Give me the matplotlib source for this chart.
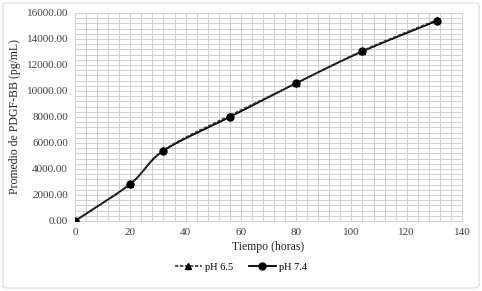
import numpy as np
import matplotlib
matplotlib.use("Agg")
import matplotlib.pyplot as plt
from matplotlib.ticker import MultipleLocator, FormatStrFormatter
from matplotlib.patches import FancyBboxPatch
from matplotlib.lines import Line2D

hours = [0, 20, 32, 56, 80, 104, 131]
ph65 = [0, 2850, 5450, 8100, 10600, 13100, 15480]
ph74 = [0, 2850, 5400, 8000, 10600, 13050, 15400]
series_names = ["pH 6.5", "pH 7.4"]

plt.rcParams['font.family'] = ['Liberation Serif', 'DejaVu Serif']


def smooth(x, y, n=30):
    x = np.asarray(x, float)
    y = np.asarray(y, float)
    px = np.concatenate([[2 * x[0] - x[1]], x, [2 * x[-1] - x[-2]]])
    py = np.concatenate([[2 * y[0] - y[1]], y, [2 * y[-1] - y[-2]]])
    xs, ys = [], []
    t = np.linspace(0, 1, n)
    for i in range(1, len(px) - 2):
        p0, p1, p2, p3 = [np.array([px[j], py[j]]) for j in range(i - 1, i + 3)]
        c1 = p1 + (p2 - p0) / 6
        c2 = p2 - (p3 - p1) / 6
        b = ((1 - t) ** 3)[:, None] * p1 + (3 * (1 - t) ** 2 * t)[:, None] * c1 \
            + (3 * (1 - t) * t ** 2)[:, None] * c2 + (t ** 3)[:, None] * p2
        xs.extend(b[:, 0])
        ys.extend(b[:, 1])
    return np.array(xs), np.array(ys)


fig = plt.figure(figsize=(4.82, 2.91), dpi=100)
fig.patches.append(FancyBboxPatch((0.006, 0.01), 0.988, 0.98, boxstyle="round,pad=0,rounding_size=0.01",
                                  transform=fig.transFigure, fill=False, edgecolor="#d9d9d9", lw=0.8))
ax = fig.add_axes([75 / 482, 1 - 221 / 291, (462 - 75) / 482, (221 - 13) / 291])

sx, sy = smooth(hours, ph74)
ax.plot(sx, sy, color='black', lw=1.3, ls='-', zorder=3)
ax.plot(hours, ph74, ls='none', marker='o', ms=5, color='black', zorder=4)
sx, sy = smooth(hours, ph65)
ax.plot(sx, sy, color='#333333', lw=1.2, ls=(0, (2, 1)), zorder=3)
ax.plot(hours, ph65, ls='none', marker='^', ms=5, color='black', zorder=4)

ax.set_xlim(0, 140)
ax.set_ylim(0, 16000)
ax.xaxis.set_major_locator(MultipleLocator(20))
ax.xaxis.set_minor_locator(MultipleLocator(4))
ax.yaxis.set_major_locator(MultipleLocator(2000))
ax.yaxis.set_minor_locator(MultipleLocator(400))
ax.yaxis.set_major_formatter(FormatStrFormatter('%.2f'))
ax.grid(which='both', color='#d0d0d0', lw=0.7)
ax.set_axisbelow(True)
for s in ax.spines.values():
    s.set_color('#d0d0d0')
    s.set_linewidth(0.7)
ax.tick_params(which='both', length=0, labelsize=8, colors='#404040', pad=5)
ax.set_xlabel('Tiempo (horas)', fontsize=8.5, color='#262626', labelpad=3)
ax.set_ylabel('Promedio de PDGF-BB (pg/mL)', fontsize=8.5, color='#262626', labelpad=4)

handles = [Line2D([], [], color='#333333', ls=(0, (2, 1)), lw=1.2, marker='^', ms=5, markerfacecolor='black', markeredgecolor='black'),
           Line2D([], [], color='black', ls='-', lw=1.3, marker='o', ms=5)]
fig.legend(handles, series_names, loc='center', bbox_to_anchor=(0.5, 1 - 267 / 291), ncol=2,
           frameon=False, fontsize=7.5, handlelength=2.6, columnspacing=1.5, handletextpad=0.3)

fig.savefig('out.png', dpi=100)
